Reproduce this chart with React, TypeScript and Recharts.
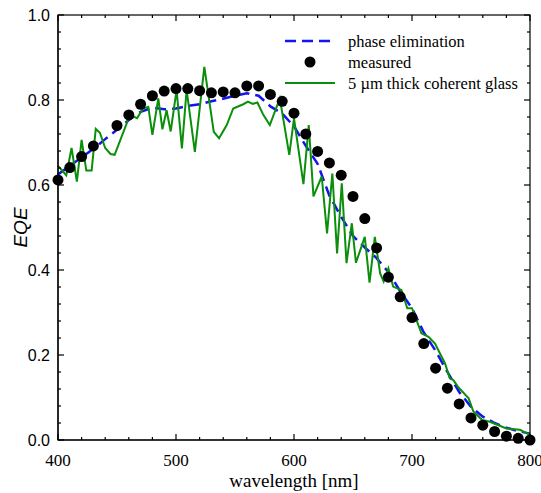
import { ComposedChart, Line, XAxis, YAxis } from "recharts"

// measured EQE (no point at 440 nm)
const measuredWl = [400, 410, 420, 430, 450, 460, 470, 480, 490, 500, 510, 520, 530, 540, 550, 560, 570, 580, 590, 600, 610, 620, 630, 640, 650, 660, 670, 680, 690, 700, 710, 720, 730, 740, 750, 760, 770, 780, 790, 800]
const measuredEqe = [0.612, 0.641, 0.667, 0.692, 0.74, 0.765, 0.79, 0.81, 0.821, 0.827, 0.827, 0.822, 0.817, 0.819, 0.817, 0.833, 0.833, 0.813, 0.797, 0.769, 0.72, 0.679, 0.652, 0.623, 0.573, 0.521, 0.452, 0.383, 0.337, 0.288, 0.227, 0.169, 0.122, 0.085, 0.052, 0.035, 0.02, 0.009, 0.004, 0.0]

// phase elimination model
const phaseWl = [400, 410, 420, 430, 440, 450, 460, 470, 480, 490, 500, 510, 520, 530, 540, 550, 560, 570, 580, 590, 600, 610, 620, 630, 640, 650, 660, 670, 680, 690, 700, 710, 720, 730, 740, 750, 760, 770, 780, 790, 800]
const phaseEqe = [0.625, 0.645, 0.665, 0.685, 0.708, 0.73, 0.753, 0.772, 0.782, 0.778, 0.78, 0.786, 0.79, 0.797, 0.803, 0.81, 0.816, 0.81, 0.785, 0.768, 0.738, 0.692, 0.65, 0.575, 0.525, 0.48, 0.453, 0.428, 0.395, 0.35, 0.31, 0.253, 0.21, 0.16, 0.113, 0.078, 0.055, 0.04, 0.029, 0.021, 0.015]

// 5 um thick coherent glass
const glassWl = [400, 407, 411.5, 416, 420, 424, 428.5, 432, 435.5, 440, 444.5, 448, 461, 467, 472, 476.5, 480, 485, 488.5, 492, 495.5, 500.5, 505, 509, 516, 524, 532, 536.5, 543, 548.5, 557, 561, 565, 569, 574, 579.5, 588, 596, 600, 608, 612.5, 616.5, 623.5, 628, 632.5, 636.5, 640.5, 644.5, 649, 652.5, 660, 664, 668.5, 673, 676, 680, 684, 691, 696, 700, 708, 714, 719.5, 728, 732, 735, 739, 748, 752, 759.5, 766, 780, 791.5, 800]
const glassEqe = [0.645, 0.623, 0.687, 0.608, 0.706, 0.634, 0.634, 0.732, 0.723, 0.687, 0.673, 0.671, 0.765, 0.757, 0.78, 0.784, 0.718, 0.804, 0.731, 0.776, 0.726, 0.824, 0.686, 0.824, 0.678, 0.878, 0.725, 0.71, 0.741, 0.78, 0.79, 0.796, 0.791, 0.794, 0.765, 0.741, 0.804, 0.671, 0.757, 0.602, 0.741, 0.573, 0.62, 0.486, 0.627, 0.439, 0.604, 0.416, 0.51, 0.417, 0.478, 0.37, 0.478, 0.392, 0.373, 0.404, 0.361, 0.353, 0.31, 0.31, 0.251, 0.243, 0.227, 0.18, 0.145, 0.141, 0.125, 0.098, 0.067, 0.047, 0.043, 0.027, 0.024, 0.012]

const xTicks = [400, 500, 600, 700, 800]
const xMinorTicks = [400, 420, 440, 460, 480, 500, 520, 540, 560, 580, 600, 620, 640, 660, 680, 700, 720, 740, 760, 780, 800]
const yTicks = [0, 0.2, 0.4, 0.6, 0.8, 1.0]
const yMinorTicks = [0, 0.04, 0.08, 0.12, 0.16, 0.2, 0.24, 0.28, 0.32, 0.36, 0.4, 0.44, 0.48, 0.52, 0.56, 0.6, 0.64, 0.68, 0.72, 0.76, 0.8, 0.84, 0.88, 0.92, 0.96, 1.0]

const legendNames = ["phase elimination", "measured", "5 \u00b5m thick coherent glass"]

const measured = measuredWl.map((wl, i) => ({ wl, eqe: measuredEqe[i] }))
const phase = phaseWl.map((wl, i) => ({ wl, eqe: phaseEqe[i] }))
const glass = glassWl.map((wl, i) => ({ wl, eqe: glassEqe[i] }))

const W = 541
const H = 493
const MARGIN = { top: 15, right: 11, bottom: 0, left: 0 }
const Y_AXIS_W = 58
const X_AXIS_H = 53
// plot box that follows from the margins and axis sizes above
const PL = MARGIN.left + Y_AXIS_W
const PR = W - MARGIN.right
const PT = MARGIN.top
const PB = H - MARGIN.bottom - X_AXIS_H
const X_DOMAIN = [400, 800]
const Y_DOMAIN = [0, 1]
const sx = (v: number) => PL + ((v - X_DOMAIN[0]) / (X_DOMAIN[1] - X_DOMAIN[0])) * (PR - PL)
const sy = (v: number) => PB - ((v - Y_DOMAIN[0]) / (Y_DOMAIN[1] - Y_DOMAIN[0])) * (PB - PT)

const SERIF = "'Liberation Serif', 'Times New Roman', serif"
const SANS = "'Liberation Sans', Arial, sans-serif"
const BLUE = "#1414f0"
const GREEN = "#0a8f0a"

const isMajorX = (v: number) => Math.round(v) % 100 === 0
const isMajorY = (v: number) => Math.abs(v * 5 - Math.round(v * 5)) < 1e-6

const measuredDot = (p: any) => <circle key={`m-${p.index}`} cx={p.cx} cy={p.cy} r={5.5} fill="#000" />

// frame with inward ticks on all four sides, titles and legend
function Overlay() {
  return (
    <svg width={W} height={H} style={{ position: "absolute", left: 0, top: 0, pointerEvents: "none" }}>
      <rect x={PL} y={PT} width={PR - PL} height={PB - PT} fill="none" stroke="#000" strokeWidth={1.2} />
      {xMinorTicks.map((v) => {
        const len = isMajorX(v) ? 6 : 3
        const x = sx(v)
        return (
          <g key={`x${v}`}>
            <line x1={x} y1={PB} x2={x} y2={PB - len} stroke="#000" strokeWidth={1.2} />
            <line x1={x} y1={PT} x2={x} y2={PT + len} stroke="#000" strokeWidth={1.2} />
          </g>
        )
      })}
      {yMinorTicks.map((v) => {
        const len = isMajorY(v) ? 6 : 3
        const y = sy(v)
        return (
          <g key={`y${v}`}>
            <line x1={PL} y1={y} x2={PL + len} y2={y} stroke="#000" strokeWidth={1.2} />
            <line x1={PR} y1={y} x2={PR - len} y2={y} stroke="#000" strokeWidth={1.2} />
          </g>
        )
      })}
      <text x={(PL + PR) / 2} y={487} textAnchor="middle" fontFamily={SERIF} fontSize={19} fill="#000">
        wavelength [nm]
      </text>
      <text x={20} y={(PT + PB) / 2} transform={`rotate(-90 20 ${(PT + PB) / 2})`} textAnchor="middle" dominantBaseline="central" fontFamily={SANS} fontStyle="italic" fontSize={19} fill="#000">
        EQE
      </text>
      <g transform="translate(280 28)">
        <line x1={5} y1={13} x2={55} y2={13} stroke={BLUE} strokeWidth={2.5} strokeDasharray="11 6" />
        <circle cx={30} cy={34} r={5.5} fill="#000" />
        <line x1={5} y1={55} x2={55} y2={55} stroke={GREEN} strokeWidth={2} />
        {legendNames.map((name, i) => (
          <text key={name} x={68} y={13 + i * 21 + 5.5} fontFamily={SERIF} fontSize={16.5} fill="#000">
            {name}
          </text>
        ))}
      </g>
    </svg>
  )
}

export default function App() {
  return (
    <div style={{ position: "absolute", left: 0, top: 0, width: W, height: H, background: "#fff" }}>
      <ComposedChart width={W} height={H} margin={MARGIN}>
        <XAxis
          dataKey="wl"
          type="number"
          domain={X_DOMAIN}
          ticks={xTicks}
          interval={0}
          height={X_AXIS_H}
          tickLine={false}
          tickSize={0}
          tickMargin={14}
          axisLine={{ stroke: "#000", strokeWidth: 1.2 }}
          tick={{ fill: "#000", fontFamily: SERIF, fontSize: 17 }}
        />
        <YAxis
          type="number"
          domain={Y_DOMAIN}
          ticks={yTicks}
          interval={0}
          width={Y_AXIS_W}
          tickLine={false}
          tickSize={0}
          tickMargin={8}
          tickFormatter={(v: number) => v.toFixed(1)}
          axisLine={{ stroke: "#000", strokeWidth: 1.2 }}
          tick={{ fill: "#000", fontFamily: SANS, fontSize: 16 }}
        />
        <Line data={measured} dataKey="eqe" stroke="none" dot={measuredDot} isAnimationActive={false} />
        <Line data={phase} dataKey="eqe" stroke={BLUE} strokeWidth={2.5} strokeDasharray="11 6" dot={false} isAnimationActive={false} />
        <Line data={glass} dataKey="eqe" stroke={GREEN} strokeWidth={2} dot={false} isAnimationActive={false} />
      </ComposedChart>
      <Overlay />
    </div>
  )
}
